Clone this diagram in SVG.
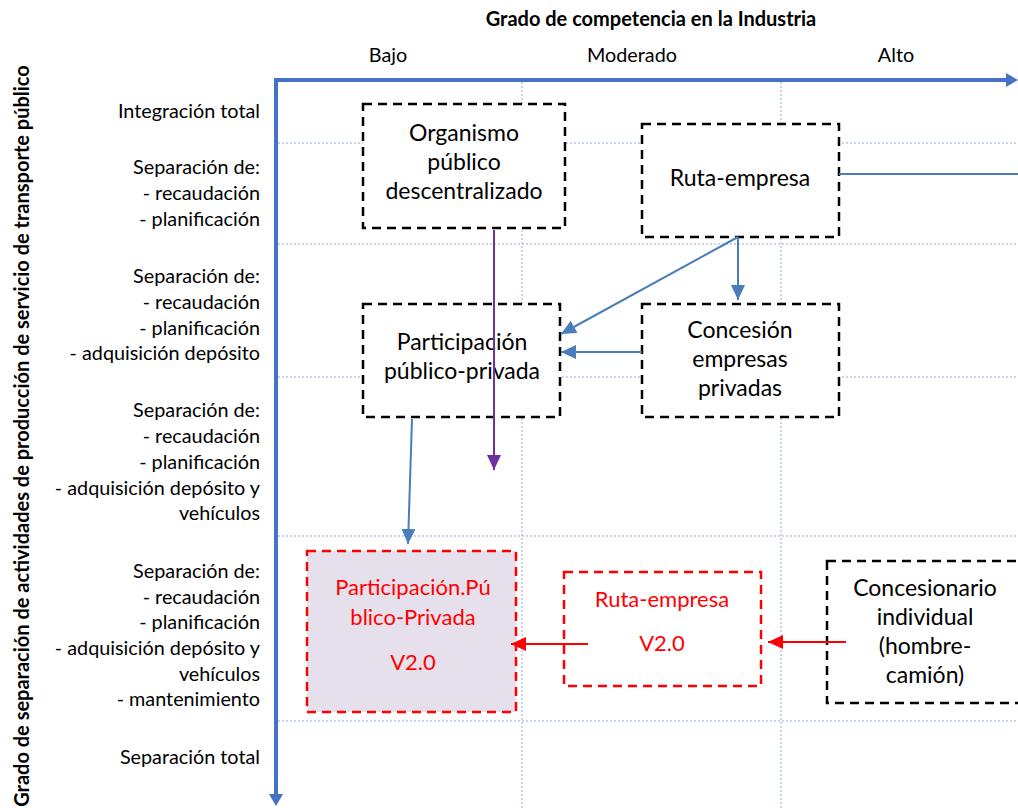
<svg xmlns="http://www.w3.org/2000/svg" width="1018" height="808" viewBox="0 0 1018 808">
<style>
  text { font-family: Lato, "Open Sans", sans-serif; fill: #000; }
  .lbl { font-size: 19.8px; text-anchor: end; }
  .col { font-size: 19.8px; text-anchor: middle; }
  .ttl { font-size: 20px; font-weight: bold; text-anchor: middle; }
  .nt { font-size: 23px; text-anchor: middle; }
  .rt { font-size: 22px; text-anchor: middle; fill: #FF0000; }
  .grid { stroke: #8FAADC; stroke-width: 1; stroke-dasharray: 2 2; fill: none; }
  .box { fill: #FFFFFF; stroke: #000; stroke-width: 2.5; stroke-dasharray: 9 6; }
  .rbox { fill: none; stroke: #FF0000; stroke-width: 2.5; stroke-dasharray: 9 6; }
  .axis { stroke: #4472C4; stroke-width: 4; fill: none; }
  .blue { stroke: #4A7EBB; stroke-width: 2; fill: none; }
  .purple { stroke: #7030A0; stroke-width: 2; fill: none; }
  .red { stroke: #FF0000; stroke-width: 2; fill: none; }
</style>
<defs>
  <marker id="ab" markerUnits="userSpaceOnUse" markerWidth="16" markerHeight="14" refX="15" refY="7" orient="auto">
    <path d="M0,0 L15,7 L0,14 Z" fill="#4A7EBB"/>
  </marker>
  <marker id="ap" markerUnits="userSpaceOnUse" markerWidth="16" markerHeight="14" refX="15" refY="7" orient="auto">
    <path d="M0,0 L15,7 L0,14 Z" fill="#7030A0"/>
  </marker>
  <marker id="ar" markerUnits="userSpaceOnUse" markerWidth="16" markerHeight="14" refX="15" refY="7" orient="auto">
    <path d="M0,0 L15,7 L0,14 Z" fill="#FF0000"/>
  </marker>
</defs>
<rect width="1018" height="808" fill="#FFFFFF"/>

<g id="titles">
  <text class="ttl" x="651" y="26">Grado de competencia en la Industria</text>
  <text class="ttl" transform="translate(29,436) rotate(-90)">Grado de separación de actividades de producción de servicio de transporte público</text>
  <text class="col" x="388" y="62">Bajo</text>
  <text class="col" x="632" y="62">Moderado</text>
  <text class="col" x="896" y="62">Alto</text>
</g>

<g id="row-labels">
  <text class="lbl" x="260" y="118">Integración total</text>
  <text class="lbl" x="260" y="174">Separación de:</text>
  <text class="lbl" x="260" y="200">- recaudación</text>
  <text class="lbl" x="260" y="226">- planificación</text>
  <text class="lbl" x="260" y="283">Separación de:</text>
  <text class="lbl" x="260" y="309">- recaudación</text>
  <text class="lbl" x="260" y="335">- planificación</text>
  <text class="lbl" x="260" y="360">- adquisición depósito</text>
  <text class="lbl" x="260" y="417">Separación de:</text>
  <text class="lbl" x="260" y="443">- recaudación</text>
  <text class="lbl" x="260" y="469">- planificación</text>
  <text class="lbl" x="260" y="495">- adquisición depósito y</text>
  <text class="lbl" x="260" y="520">vehículos</text>
  <text class="lbl" x="260" y="578">Separación de:</text>
  <text class="lbl" x="260" y="604">- recaudación</text>
  <text class="lbl" x="260" y="629">- planificación</text>
  <text class="lbl" x="260" y="655">- adquisición depósito y</text>
  <text class="lbl" x="260" y="681">vehículos</text>
  <text class="lbl" x="260" y="706">- mantenimiento</text>
  <text class="lbl" x="260" y="764">Separación total</text>
</g>

<g id="grid">
  <line class="grid" x1="278" y1="143" x2="1018" y2="143"/>
  <line class="grid" x1="278" y1="244" x2="1018" y2="244"/>
  <line class="grid" x1="278" y1="377" x2="1018" y2="377"/>
  <line class="grid" x1="278" y1="536" x2="1018" y2="536"/>
  <line class="grid" x1="278" y1="721" x2="1018" y2="721"/>
  <line class="grid" x1="522" y1="82" x2="522" y2="808"/>
  <line class="grid" x1="781" y1="82" x2="781" y2="808"/>
</g>

<g id="axes">
  <path class="axis" d="M1006,80 L276,80 L276,794" />
  <path d="M1006,73 L1018,80 L1006,87 Z" fill="#4472C4"/>
  <path d="M269,794 L276,806 L283,794 Z" fill="#4472C4"/>
</g>

<g id="node-organismo">
  <rect class="box" x="363" y="104" width="202" height="124"/>
  <text class="nt" x="464" y="141">Organismo</text>
  <text class="nt" x="464" y="170">público</text>
  <text class="nt" x="464" y="199">descentralizado</text>
</g>

<g id="node-ruta">
  <rect class="box" x="642" y="124" width="197" height="113"/>
  <text class="nt" x="740" y="186">Ruta-empresa</text>
</g>

<g id="node-ppp">
  <rect class="box" x="363" y="304" width="197" height="113"/>
  <text class="nt" x="462" y="350">Participación</text>
  <text class="nt" x="462" y="379">público-privada</text>
</g>

<g id="node-concesion">
  <rect class="box" x="642" y="304" width="197" height="113"/>
  <text class="nt" x="740" y="338">Concesión</text>
  <text class="nt" x="740" y="367">empresas</text>
  <text class="nt" x="740" y="396">privadas</text>
</g>

<g id="node-ppp2">
  <rect x="307" y="551" width="209" height="161" fill="#E6E0EC"/>
  <rect class="rbox" x="307" y="551" width="209" height="161"/>
  <text class="rt" x="413" y="595">Participación.Pú</text>
  <text class="rt" x="413" y="625">blico-Privada</text>
  <text class="rt" x="413" y="670">V2.0</text>
</g>

<g id="node-ruta2">
  <rect class="rbox" x="564" y="572" width="197" height="114" fill="#FFFFFF"/>
  <text class="rt" x="662" y="607">Ruta-empresa</text>
  <text class="rt" x="662" y="651">V2.0</text>
</g>

<g id="node-concesionario">
  <rect class="box" x="827" y="561" width="200" height="142"/>
  <text class="nt" x="925" y="596">Concesionario</text>
  <text class="nt" x="925" y="625">individual</text>
  <text class="nt" x="925" y="654">(hombre-</text>
  <text class="nt" x="925" y="683">camión)</text>
</g>

<g id="connectors">
  <line class="purple" x1="494" y1="230" x2="494" y2="470" marker-end="url(#ap)"/>
  <line class="blue" x1="839" y1="174" x2="1018" y2="174"/>
  <line class="blue" x1="738" y1="237" x2="738" y2="300" marker-end="url(#ab)"/>
  <line class="blue" x1="738" y1="237" x2="561" y2="334" marker-end="url(#ab)"/>
  <line class="blue" x1="642" y1="352" x2="561" y2="352" marker-end="url(#ab)"/>
  <line class="blue" x1="412" y1="419" x2="408" y2="544" marker-end="url(#ab)"/>
  <line class="red" x1="588" y1="644" x2="511" y2="644" marker-end="url(#ar)"/>
  <line class="red" x1="846" y1="642" x2="768" y2="642" marker-end="url(#ar)"/>
</g>
</svg>
